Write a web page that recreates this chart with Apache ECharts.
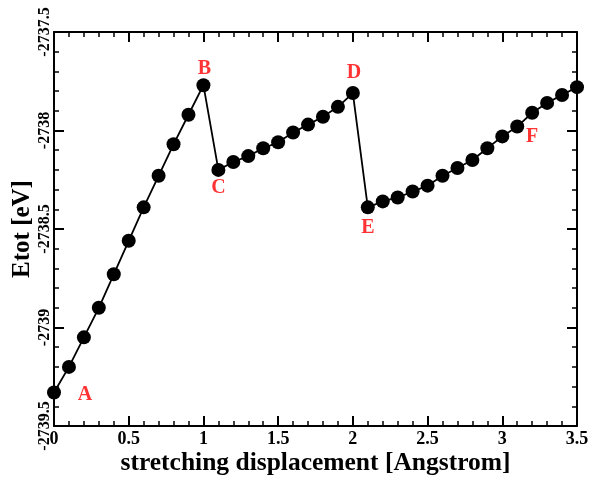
<!DOCTYPE html>
<html>
<head>
<meta charset="utf-8">
<script src="https://cdn.jsdelivr.net/npm/echarts@6/dist/echarts.min.js"></script>
<style>html,body{margin:0;padding:0;background:#fff}#c{width:589px;height:478px}</style>
</head>
<body>
<div id="c"></div>
<script>
const xValues = [0,0.1,0.2,0.3,0.4,0.5,0.6,0.7,0.8,0.9,1.0,1.1,1.2,1.3,1.4,1.5,1.6,1.7,1.8,1.9,2.0,2.1,2.2,2.3,2.4,2.5,2.6,2.7,2.8,2.9,3.0,3.1,3.2,3.3,3.4,3.5];
const etot = [-2739.33,-2739.20,-2739.05,-2738.90,-2738.73,-2738.56,-2738.39,-2738.23,-2738.07,-2737.92,-2737.77,
  -2738.20,-2738.16,-2738.13,-2738.09,-2738.06,-2738.01,-2737.97,-2737.93,-2737.88,-2737.81,
  -2738.39,-2738.36,-2738.34,-2738.31,-2738.28,-2738.23,-2738.19,-2738.15,-2738.09,-2738.03,-2737.98,-2737.91,-2737.86,-2737.82,-2737.78];
const annotNames = ['A','B','C','D','E','F'];
const annotIndex = [0,10,11,20,21,32];
const xTitle = 'stretching displacement [Angstrom]';
const yTitle = 'Etot [eV]';

const FONT = '"Liberation Serif", "DejaVu Serif", serif';
const annotOffsets = {A:[31,2],B:[1,-16],C:[0,18],D:[1,-20],E:[0,20],F:[0,24]};

const chart = echarts.init(document.getElementById('c'), null, {renderer:'canvas'});
const axisCommon = {
  axisLine:{show:true,onZero:false,lineStyle:{color:'#000',width:2}},
  axisTick:{show:true,inside:true,length:10,lineStyle:{color:'#000',width:2}},
  minorTick:{show:true,splitNumber:5,length:5,lineStyle:{color:'#000',width:1.5}},
  splitLine:{show:false}
};
const fmt = v => String(v);
chart.setOption({
  animation:false,
  backgroundColor:'#fff',
  grid:{left:54,right:12,top:32,bottom:52,containLabel:false,outerBoundsMode:'none'},
  xAxis:[
    Object.assign({type:'value',min:0,max:3.5,interval:0.5,position:'bottom',
      name:xTitle,nameLocation:'middle',nameGap:24,nameMoveOverlap:false,
      nameTextStyle:{fontFamily:FONT,fontWeight:'bold',fontSize:25.5,color:'#000'},
      axisLabel:{fontFamily:FONT,fontWeight:'bold',fontSize:18,color:'#000',margin:4,formatter:fmt}},axisCommon),
    Object.assign({type:'value',min:0,max:3.5,interval:0.5,position:'top',axisLabel:{show:false}},axisCommon)
  ],
  yAxis:[
    Object.assign({type:'value',min:-2739.5,max:-2737.5,interval:0.5,position:'left',
      name:yTitle,nameLocation:'middle',nameGap:19,nameMoveOverlap:false,
      nameTextStyle:{fontFamily:FONT,fontWeight:'bold',fontSize:25,color:'#000'},
      axisLabel:{fontFamily:FONT,fontWeight:'bold',fontSize:16,color:'#000',rotate:90,margin:1,formatter:fmt}},axisCommon),
    Object.assign({type:'value',min:-2739.5,max:-2737.5,interval:0.5,position:'right',axisLabel:{show:false}},axisCommon)
  ],
  series:[
    {type:'line',data:xValues.map((x,i)=>[x,etot[i]]),symbol:'circle',symbolSize:14,
     itemStyle:{color:'#000'},lineStyle:{color:'#000',width:1.8},z:3},
    {type:'scatter',symbolSize:0,z:5,
     data:annotNames.map((n,k)=>({name:n,value:[xValues[annotIndex[k]],etot[annotIndex[k]]],
       label:{show:true,formatter:n,offset:annotOffsets[n],position:'inside',
         fontFamily:FONT,fontWeight:'bold',fontSize:20,color:'#ff0000'}}))}
  ]
});
</script>
</body>
</html>
